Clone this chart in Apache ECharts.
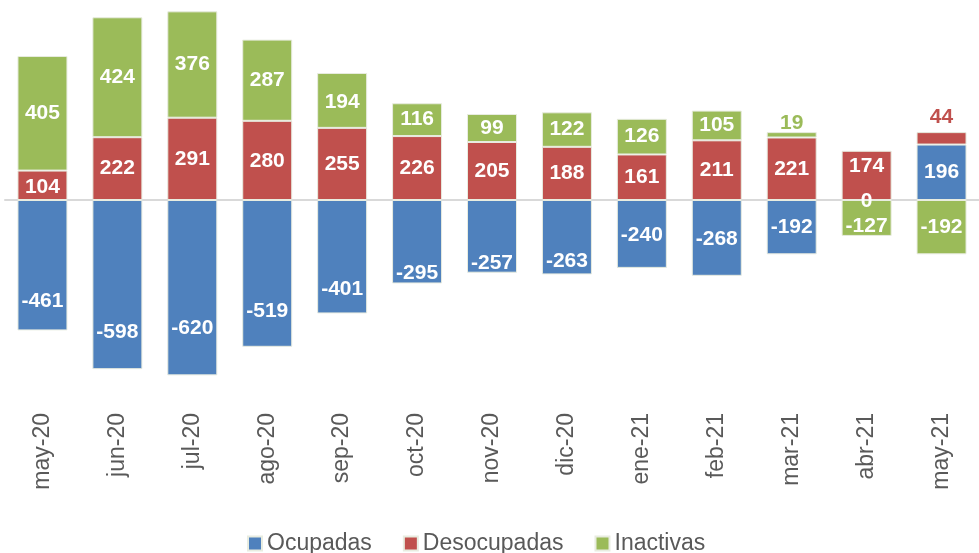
<!DOCTYPE html>
<html>
<head>
<meta charset="utf-8">
<script src="https://cdn.jsdelivr.net/npm/echarts@6/dist/echarts.min.js"></script>
<style>
  html, body { margin: 0; padding: 0; background: #fff; }
  #chart { width: 979px; height: 553px; }
</style>
</head>
<body>
<div id="chart"></div>
<script>
const months = ['may-20', 'jun-20', 'jul-20', 'ago-20', 'sep-20', 'oct-20', 'nov-20',
  'dic-20', 'ene-21', 'feb-21', 'mar-21', 'abr-21', 'may-21']
const ocupadas = [-461, -598, -620, -519, -401, -295, -257, -263, -240, -268, -192, 0, 196]
const desocupadas = [104, 222, 291, 280, 255, 226, 205, 188, 161, 211, 221, 174, 44]
const inactivas = [405, 424, 376, 287, 194, 116, 99, 122, 126, 105, 19, -127, -192]

// vertical nudges of the data labels, as placed in the original
const ocupadasLabelDy = [36, 48, 41, 38, 32, 31, 27, 24, 1, 1, 0, 1, 0]
const desocupadasLabelDy = [2, 0, 0, 1, 0, 0, 0, 0, 0, 0, 0, -9, -2]
const inactivasLabelDy = [0, 0, 0, 0, 2, 0, 0, 0, 0, 0, 4, 8, 0]

const colors = ['#4f81bd', '#c0504d', '#9bbb59']
const font = 'Liberation Sans, Arial, sans-serif'

// small bars get their label above, in the bar colour
function withLabels(values, dy, color) {
  return values.map((v, i) => {
    let label = { offset: [0, dy[i]] }
    if (v !== 0 && Math.abs(v) < 60) {
      label.position = 'top'
      label.color = color
      label.distance = 2
    }
    return { value: v, label: label }
  })
}

let chart = echarts.init(document.getElementById('chart'))

chart.setOption({
  animation: false,
  color: colors,
  grid: { left: 5, right: -9, top: 2, bottom: 155 },
  legend: {
    left: 242,
    top: 527,
    icon: 'rect',
    itemWidth: 14,
    itemHeight: 14,
    itemGap: 31,
    textStyle: { color: '#595959', fontSize: 23, fontFamily: font },
    data: ['Ocupadas', 'Desocupadas', 'Inactivas']
  },
  xAxis: [{
    type: 'category',
    data: months,
    axisLine: { onZero: true, lineStyle: { color: '#d9d9d9', width: 2 } },
    axisTick: { show: false },
    axisLabel: { show: false }
  }, {
    type: 'category',
    data: months,
    position: 'bottom',
    axisLine: { show: false, onZero: false },
    axisTick: { show: false },
    axisLabel: {
      rotate: 90,
      margin: 15,
      color: '#595959',
      fontSize: 23,
      fontFamily: font
    }
  }],
  yAxis: {
    type: 'value',
    min: -700,
    max: 700,
    show: false,
    splitLine: { show: false }
  },
  series: [
    { name: 'Ocupadas', data: withLabels(ocupadas, ocupadasLabelDy, colors[0]) },
    { name: 'Desocupadas', data: withLabels(desocupadas, desocupadasLabelDy, colors[1]) },
    { name: 'Inactivas', data: withLabels(inactivas, inactivasLabelDy, colors[2]) }
  ].map(s => Object.assign({
    type: 'bar',
    stack: 'total',
    barWidth: 50,
    itemStyle: { borderColor: '#e8ece0', borderWidth: 1 },
    label: {
      show: true,
      position: 'inside',
      color: '#fff',
      fontSize: 21,
      fontWeight: 'bold',
      fontFamily: font
    }
  }, s))
})
</script>
</body>
</html>
